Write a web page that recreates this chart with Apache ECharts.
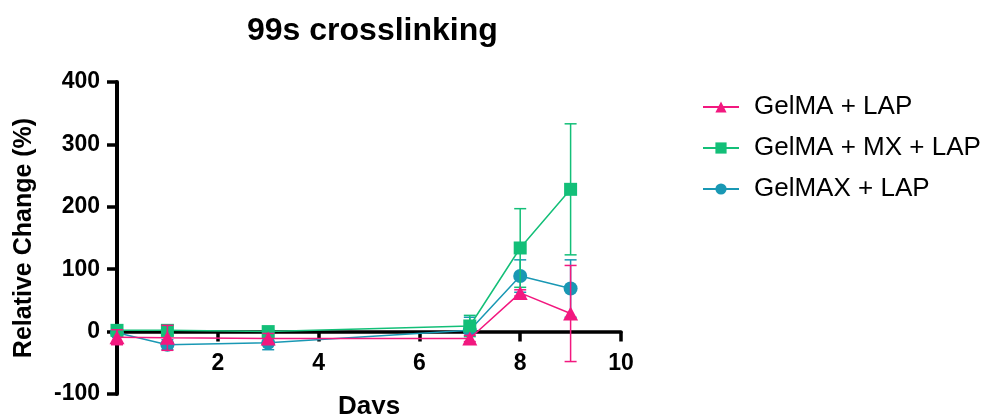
<!DOCTYPE html>
<html><head><meta charset="utf-8">
<script src="https://cdn.jsdelivr.net/npm/echarts@6/dist/echarts.min.js"></script>
<style>html,body{margin:0;padding:0;background:#fff}#c{width:996px;height:414px}</style>
</head><body><div id="c"></div>
<script>
const days = [0, 1, 3, 7, 8, 9];
const seriesNames = ['GelMA + LAP', 'GelMA + MX + LAP', 'GelMAX + LAP'];
const gelmaMean = [-9, -10, -11, -11, 62, 29];
const gelmaErr = [12, 20, 8, 5, 5, 77];
const mxMean = [2, 2, 0, 9, 134, 228];
const mxErr = [4, 9, 3, 17, 63, 105];
const gelmaxMean = [-2, -21, -18, 2, 89, 69];
const gelmaxErr = [2, 8, 11, 21, 26, 46];
const xTicks = [2, 4, 6, 8, 10];
const yTicks = [-100, 0, 100, 200, 300, 400];
const titleText = '99s crosslinking';
const xName = 'Days';
const yName = 'Relative Change (%)';

const colors = ['#F2187F', '#13BF78', '#1998B4'];
const symbols = ['triangle', 'rect', 'circle'];
const symbolSizes = [[15, 14], 13, 14];
const means = [gelmaMean, mxMean, gelmaxMean];
const errs = [gelmaErr, mxErr, gelmaxErr];
const zs = [6, 4, 3];
const FONT = 'Arial, "Liberation Sans", sans-serif';

const series = [];
for (let i = 0; i < 3; i++) {
  series.push({
    name: seriesNames[i] + ' err',
    type: 'custom',
    z: zs[i],
    silent: true,
    data: days.map((d, k) => [d, means[i][k] - errs[i][k], means[i][k] + errs[i][k]]),
    renderItem: function (params, api) {
      const x = api.value(0);
      const top = api.coord([x, api.value(2)]);
      const bot = api.coord([x, api.value(1)]);
      const hw = 6;
      const st = { stroke: colors[i], lineWidth: 1.5 };
      return { type: 'group', children: [
        { type: 'line', shape: { x1: top[0], y1: top[1], x2: bot[0], y2: bot[1] }, style: st },
        { type: 'line', shape: { x1: top[0] - hw, y1: top[1], x2: top[0] + hw, y2: top[1] }, style: st },
        { type: 'line', shape: { x1: bot[0] - hw, y1: bot[1], x2: bot[0] + hw, y2: bot[1] }, style: st }
      ]};
    }
  });
  series.push({
    name: seriesNames[i],
    type: 'line',
    z: zs[i] + 0.5,
    data: days.map((d, k) => [d, means[i][k]]),
    symbol: symbols[i],
    symbolSize: symbolSizes[i],
    itemStyle: { color: colors[i] },
    lineStyle: { color: colors[i], width: 1.5 },
    emphasis: { disabled: true }
  });
}

const chart = echarts.init(document.getElementById('c'), null, { renderer: 'canvas' });
chart.setOption({
  animation: false,
  title: [{
    text: titleText, left: 242, top: 10,
    textStyle: { fontFamily: FONT, fontSize: 32, fontWeight: 'bold', color: '#000' }
  }, {
    text: xName, left: 338, top: 394, padding: 0,
    textStyle: { fontFamily: FONT, fontSize: 26, fontWeight: 'bold', color: '#000' }
  }],
  legend: {
    data: seriesNames, orient: 'vertical', left: 697, top: 89,
    itemWidth: 36, itemHeight: 14, itemGap: 15,
    textStyle: { fontFamily: FONT, fontSize: 26, color: '#000', padding: [0, 0, 0, 10] }
  },
  grid: { left: 117, right: 375, top: 82, bottom: 20, containLabel: false, outerBoundsMode: 'none' },
  xAxis: {
    type: 'value', min: 0, max: 10, interval: 2,
    axisLine: { onZero: true, lineStyle: { color: '#000', width: 3.5 } },
    axisTick: { show: true, length: 10, lineStyle: { color: '#000', width: 3.5 } },
    axisLabel: { margin: -42, fontFamily: FONT, fontSize: 23, fontWeight: 'bold', color: '#000',
      formatter: v => (xTicks.indexOf(v) >= 0 ? String(v) : '') },
    splitLine: { show: false }
  },
  yAxis: {
    type: 'value', min: -100, max: 400, interval: 100,
    name: yName, nameLocation: 'middle', nameGap: 80,
    nameTextStyle: { fontFamily: FONT, fontSize: 25, fontWeight: 'bold', color: '#000' },
    axisLine: { show: true, onZero: false, lineStyle: { color: '#000', width: 4 } },
    axisTick: { show: true, length: 10, lineStyle: { color: '#000', width: 3.5 } },
    axisLabel: { margin: 17, fontFamily: FONT, fontSize: 23, fontWeight: 'bold', color: '#000',
      formatter: v => (yTicks.indexOf(v) >= 0 ? String(v) : '') },
    splitLine: { show: false }
  },
  series: series
});
</script></body></html>
